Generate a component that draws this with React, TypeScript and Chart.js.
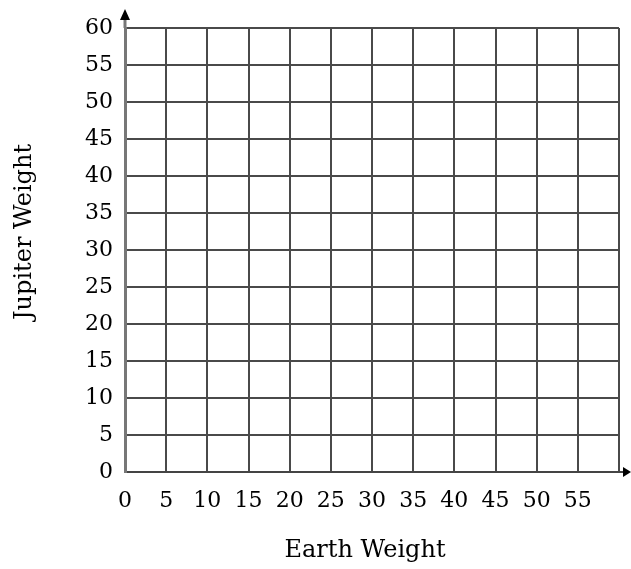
import { useEffect, useRef } from 'react';
import { Chart, registerables } from 'chart.js';

Chart.register(...registerables);

const xTickLabels = ['0', '5', '10', '15', '20', '25', '30', '35', '40', '45', '50', '55'];
const yTickLabels = ['0', '5', '10', '15', '20', '25', '30', '35', '40', '45', '50', '55', '60'];
const xMin = 0;
const xMax = 60;
const yMin = 0;
const yMax = 60;
const step = 5;
const xTitle = 'Earth Weight';
const yTitle = 'Jupiter Weight';

const FONT = "'DejaVu Serif', serif";

const arrowPlugin = {
  id: 'axisArrows',
  afterDraw(chart: any) {
    const { ctx, chartArea } = chart;
    const left = chartArea.left;
    const top = chartArea.top;
    const bottom = chartArea.bottom;
    const right = chartArea.right;
    ctx.save();
    ctx.strokeStyle = '#777';
    ctx.lineWidth = 3;
    ctx.beginPath();
    ctx.moveTo(left, top);
    ctx.lineTo(left, top - 8);
    ctx.stroke();
    ctx.fillStyle = '#000';
    ctx.beginPath();
    ctx.moveTo(left, top - 19);
    ctx.lineTo(left - 5, top - 8);
    ctx.lineTo(left + 5, top - 8);
    ctx.closePath();
    ctx.fill();
    ctx.strokeStyle = '#444';
    ctx.lineWidth = 2;
    ctx.beginPath();
    ctx.moveTo(right, bottom);
    ctx.lineTo(right + 5, bottom);
    ctx.stroke();
    ctx.beginPath();
    ctx.moveTo(right + 12, bottom);
    ctx.lineTo(right + 4, bottom - 5);
    ctx.lineTo(right + 4, bottom + 5);
    ctx.closePath();
    ctx.fill();

    // axis titles
    ctx.fillStyle = '#000';
    ctx.font = `24px ${FONT}`;
    ctx.textAlign = 'center';
    ctx.textBaseline = 'middle';
    ctx.fillText(xTitle, 365, 551);
    ctx.translate(25, 232);
    ctx.rotate(-Math.PI / 2);
    ctx.fillText(yTitle, 0, 0);
    ctx.restore();
  },
};

export default function App() {
  const ref = useRef<HTMLCanvasElement | null>(null);
  useEffect(() => {
    if (!ref.current) return;
    const chart = new Chart(ref.current, {
      type: 'scatter',
      data: { datasets: [{ data: [] }] },
      options: {
        animation: false,
        responsive: false,
        maintainAspectRatio: false,
        layout: { padding: { top: 28, right: 12, left: 0, bottom: 0 } },
        plugins: { legend: { display: false }, tooltip: { enabled: false } },
        scales: {
          x: {
            type: 'linear',
            min: xMin,
            max: xMax,
            afterFit: (s: any) => { s.height = 97; s.paddingLeft = 0; s.paddingRight = 0; },
            ticks: {
              stepSize: step,
              color: '#000',
              font: { family: FONT, size: 22 },
              padding: 16,
              maxRotation: 0,
              autoSkip: false,
              callback: (_v: any, i: number) => xTickLabels[i] ?? '',
            },
            grid: { color: '#4a4a4a', lineWidth: 2, drawTicks: false },
            border: { color: '#444', width: 2 },
          },
          y: {
            type: 'linear',
            min: yMin,
            max: yMax,
            afterFit: (s: any) => { s.width = 125; s.paddingTop = 0; s.paddingBottom = 0; },
            ticks: {
              stepSize: step,
              color: '#000',
              font: { family: FONT, size: 22 },
              padding: 12,
              autoSkip: false,
              callback: (_v: any, i: number) => yTickLabels[i] ?? '',
            },
            grid: { color: '#4a4a4a', lineWidth: 2, drawTicks: false },
            border: { color: '#777', width: 3 },
          },
        },
      },
      plugins: [arrowPlugin],
    });
    return () => chart.destroy();
  }, []);
  return (
    <div style={{ position: 'absolute', left: 0, top: 0, width: 631, height: 569 }}>
      <canvas ref={ref} width={631} height={569} style={{ width: 631, height: 569 }} />
    </div>
  );
}
